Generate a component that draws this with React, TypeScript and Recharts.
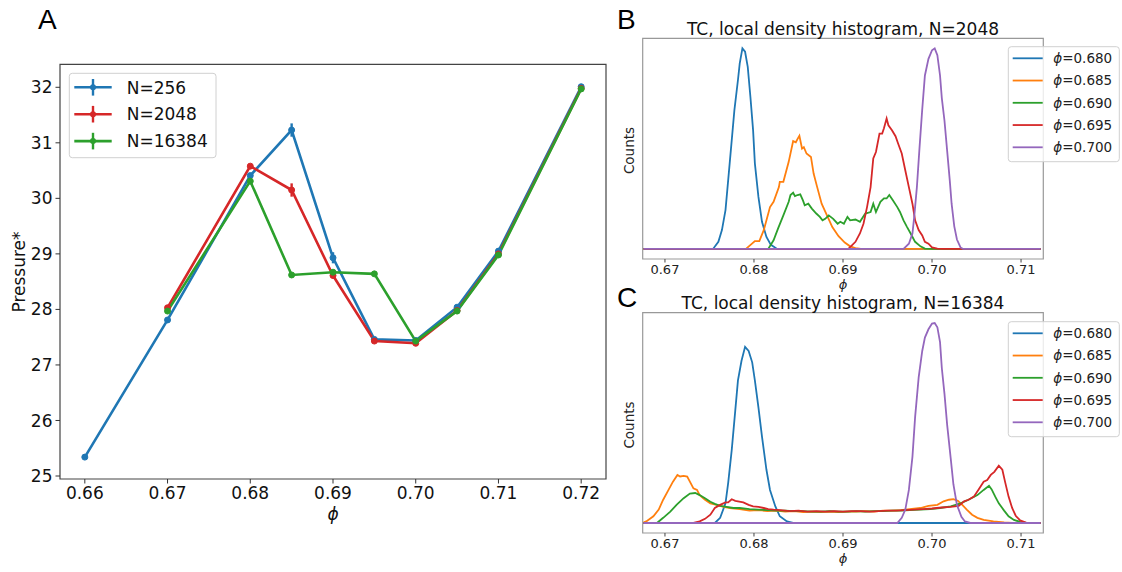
import React from 'react';
import { LineChart, Line, XAxis, YAxis, ErrorBar, ReferenceArea } from 'recharts';

const FONT = '"DejaVu Sans", Verdana, sans-serif';
const BLUE = '#1f77b4';
const ORANGE = '#ff7f0e';
const GREEN = '#2ca02c';
const RED = '#d62728';
const PURPLE = '#9467bd';

// ---------- Panel A : pressure vs phi ----------
const phiA256 = [0.66, 0.67, 0.68, 0.685, 0.69, 0.695, 0.7, 0.705, 0.71, 0.72];
const pressA256 = [25.34, 27.81, 30.41, 31.23, 28.93, 27.46, 27.44, 28.04, 29.05, 32.01];
const errA256 = [0.03, 0.03, 0.04, 0.12, 0.1, 0.03, 0.03, 0.04, 0.05, 0.03];

const phiA2048 = [0.67, 0.68, 0.685, 0.69, 0.695, 0.7, 0.705, 0.71, 0.72];
const pressA2048 = [28.03, 30.58, 30.15, 28.61, 27.43, 27.39, 27.98, 29.0, 31.98];
const errA2048 = [0.04, 0.04, 0.12, 0.04, 0.03, 0.03, 0.03, 0.04, 0.03];

const phiA16384 = [0.67, 0.68, 0.685, 0.69, 0.695, 0.7, 0.705, 0.71, 0.72];
const pressA16384 = [27.97, 30.31, 28.62, 28.67, 28.64, 27.43, 27.97, 28.98, 31.97];
const errA16384 = [0.04, 0.05, 0.03, 0.03, 0.03, 0.03, 0.03, 0.04, 0.03];

const xTicksA = [0.66, 0.67, 0.68, 0.69, 0.7, 0.71, 0.72];
const yTicksA = [25, 26, 27, 28, 29, 30, 31, 32];
const legendA = ['N=256', 'N=2048', 'N=16384'];

// ---------- Panel B : histograms N=2048 ----------
const histB680: [number, number][] = [
  [0.6676, 0], [0.6754, 0], [0.676, 0.19], [0.6764, 0.5], [0.6768, 1.03], [0.6771, 1.82], [0.6775, 2.88],
  [0.6778, 3.68], [0.6782, 4.48], [0.6784, 4.92], [0.6787, 5.32], [0.679, 5.23], [0.6793, 4.83], [0.6796, 4.03],
  [0.6799, 3.15], [0.6801, 2.27], [0.6805, 1.38], [0.6809, 0.72], [0.6814, 0.32], [0.6819, 0.11], [0.6826, 0], [0.7122, 0],
];
const histB685: [number, number][] = [
  [0.6676, 0], [0.6791, 0], [0.6801, 0.21], [0.6806, 0.21], [0.6811, 0.5], [0.6818, 1.11], [0.6822, 1.25],
  [0.6828, 1.64], [0.6829, 1.78], [0.6833, 1.78], [0.6839, 2.31], [0.6844, 2.86], [0.6847, 2.83], [0.6849, 2.92],
  [0.6851, 3.0], [0.6854, 2.66], [0.6856, 2.7], [0.6859, 2.53], [0.6864, 2.44], [0.6867, 2.0], [0.6871, 1.64],
  [0.6876, 1.2], [0.6882, 0.89], [0.6888, 0.58], [0.6895, 0.34], [0.6902, 0.17], [0.6908, 0.07], [0.6914, 0.02],
  [0.692, 0], [0.7122, 0],
];
const histB690: [number, number][] = [
  [0.6676, 0], [0.6816, 0], [0.6822, 0.23], [0.6827, 0.54], [0.6833, 0.89], [0.6839, 1.25], [0.6841, 1.43],
  [0.6844, 1.49], [0.6846, 1.4], [0.6849, 1.43], [0.6852, 1.45], [0.6855, 1.29], [0.6857, 1.16], [0.6861, 1.2],
  [0.6865, 1.07], [0.687, 0.94], [0.6874, 0.85], [0.6877, 0.76], [0.688, 0.8], [0.6884, 0.89], [0.6889, 0.8],
  [0.6894, 0.67], [0.6897, 0.72], [0.6901, 0.67], [0.6905, 0.85], [0.6908, 0.76], [0.6914, 0.78], [0.6919, 0.72],
  [0.6925, 0.94], [0.6931, 0.98], [0.6934, 1.2], [0.6937, 0.98], [0.6942, 1.25], [0.6946, 1.34], [0.6949, 1.34],
  [0.6952, 1.43], [0.6956, 1.29], [0.6961, 1.11], [0.6964, 0.98], [0.6968, 0.76], [0.6972, 0.58], [0.6976, 0.41],
  [0.6981, 0.19], [0.6987, 0.07], [0.6992, 0.01], [0.7, 0], [0.7122, 0],
];
const histB695: [number, number][] = [
  [0.6676, 0], [0.6906, 0], [0.6914, 0.19], [0.6919, 0.41], [0.6923, 0.67], [0.6927, 1.11], [0.6931, 1.64],
  [0.6934, 2.4], [0.6937, 2.57], [0.6941, 3.06], [0.6944, 3.06], [0.6946, 3.2], [0.6949, 3.46], [0.6951, 3.28],
  [0.6955, 3.15], [0.6959, 2.99], [0.6962, 2.79], [0.6966, 2.53], [0.697, 2.08], [0.6974, 1.64], [0.6978, 1.2],
  [0.6981, 0.76], [0.6985, 0.5], [0.6989, 0.36], [0.6992, 0.19], [0.6996, 0.14], [0.7, 0.04], [0.7006, 0.01],
  [0.7012, 0], [0.7122, 0],
];
const histB700: [number, number][] = [
  [0.6676, 0], [0.6968, 0], [0.6974, 0.14], [0.6978, 0.41], [0.698, 0.85], [0.6983, 1.64], [0.6986, 2.7],
  [0.6989, 3.7], [0.6992, 4.6], [0.6996, 5.04], [0.7, 5.27], [0.7003, 5.32], [0.7006, 5.14], [0.7009, 4.6],
  [0.7011, 4.0], [0.7014, 3.4], [0.7017, 2.6], [0.702, 1.8], [0.7022, 1.2], [0.7025, 0.6], [0.7028, 0.25],
  [0.7032, 0.04], [0.7035, 0], [0.7122, 0],
];

// ---------- Panel C : histograms N=16384 ----------
const histC680: [number, number][] = [
  [0.6676, 0], [0.6756, 0], [0.6762, 0.1], [0.6768, 0.38], [0.6771, 0.77], [0.6775, 1.41], [0.6779, 2.18],
  [0.6782, 2.76], [0.6786, 3.14], [0.679, 3.41], [0.6794, 3.33], [0.6798, 3.11], [0.6801, 2.76], [0.6805, 2.24],
  [0.6809, 1.67], [0.6814, 1.03], [0.6818, 0.64], [0.6824, 0.32], [0.6829, 0.13], [0.6837, 0.03], [0.6844, 0], [0.7122, 0],
];
const histC685: [number, number][] = [
  [0.6676, 0.01], [0.6679, 0.03], [0.6687, 0.13], [0.6693, 0.26], [0.6698, 0.45], [0.6704, 0.64], [0.6709, 0.8],
  [0.6714, 0.93], [0.6717, 0.9], [0.6721, 0.91], [0.6725, 0.9], [0.6728, 0.8], [0.6732, 0.67], [0.6736, 0.64],
  [0.6739, 0.54], [0.6745, 0.45], [0.6751, 0.38], [0.6758, 0.35], [0.6766, 0.31], [0.6773, 0.29], [0.6784, 0.27],
  [0.6795, 0.24], [0.6805, 0.25], [0.6815, 0.23], [0.6825, 0.24], [0.6835, 0.22], [0.6845, 0.23], [0.6855, 0.21],
  [0.6865, 0.22], [0.6875, 0.21], [0.6885, 0.22], [0.6895, 0.21], [0.6905, 0.22], [0.6915, 0.22], [0.6925, 0.23],
  [0.6935, 0.22], [0.6945, 0.24], [0.6955, 0.24], [0.6965, 0.25], [0.6975, 0.27], [0.6987, 0.29], [0.6996, 0.33],
  [0.7006, 0.35], [0.7013, 0.42], [0.7019, 0.45], [0.7024, 0.46], [0.7029, 0.43], [0.7034, 0.35], [0.7039, 0.26],
  [0.7045, 0.16], [0.7051, 0.1], [0.7058, 0.06], [0.7069, 0.03], [0.7081, 0.01], [0.709, 0], [0.7122, 0],
];
const histC690: [number, number][] = [
  [0.6676, 0], [0.6691, 0], [0.6698, 0.1], [0.6706, 0.22], [0.6713, 0.35], [0.6721, 0.48], [0.6728, 0.57],
  [0.6734, 0.58], [0.6739, 0.54], [0.6745, 0.48], [0.6751, 0.41], [0.6756, 0.37], [0.6762, 0.33], [0.6769, 0.31],
  [0.6777, 0.29], [0.6784, 0.29], [0.6795, 0.27], [0.6805, 0.26], [0.6815, 0.25], [0.6825, 0.24], [0.6835, 0.24],
  [0.6845, 0.23], [0.6855, 0.23], [0.6865, 0.22], [0.6875, 0.22], [0.6885, 0.23], [0.6895, 0.22], [0.6905, 0.22],
  [0.6915, 0.23], [0.6925, 0.22], [0.6935, 0.23], [0.6945, 0.23], [0.6955, 0.24], [0.6965, 0.24], [0.6975, 0.25],
  [0.6987, 0.26], [0.6998, 0.27], [0.7009, 0.29], [0.7021, 0.32], [0.7032, 0.38], [0.7041, 0.45], [0.7051, 0.54],
  [0.7058, 0.64], [0.7064, 0.72], [0.7067, 0.65], [0.7071, 0.51], [0.7075, 0.38], [0.7081, 0.24], [0.7086, 0.13],
  [0.7092, 0.06], [0.7099, 0.02], [0.7106, 0], [0.7122, 0],
];
const histC695: [number, number][] = [
  [0.6676, 0], [0.6732, 0], [0.6739, 0.03], [0.6745, 0.08], [0.6751, 0.16], [0.6756, 0.29], [0.6762, 0.35],
  [0.6768, 0.4], [0.6771, 0.4], [0.6775, 0.46], [0.6779, 0.43], [0.6782, 0.42], [0.6788, 0.4], [0.6794, 0.35],
  [0.6799, 0.32], [0.6805, 0.31], [0.6811, 0.29], [0.6816, 0.27], [0.6822, 0.26], [0.683, 0.25], [0.684, 0.23],
  [0.685, 0.24], [0.686, 0.22], [0.687, 0.23], [0.688, 0.22], [0.689, 0.23], [0.69, 0.22], [0.691, 0.23],
  [0.692, 0.23], [0.693, 0.22], [0.694, 0.23], [0.695, 0.24], [0.696, 0.24], [0.697, 0.25], [0.698, 0.26],
  [0.699, 0.27], [0.7, 0.28], [0.7011, 0.3], [0.7021, 0.31], [0.703, 0.33], [0.7036, 0.42], [0.7041, 0.45],
  [0.7047, 0.51], [0.7052, 0.64], [0.7058, 0.8], [0.7062, 0.83], [0.7066, 0.93], [0.707, 0.99], [0.7075, 1.11],
  [0.7079, 1.03], [0.7082, 0.8], [0.7086, 0.51], [0.709, 0.29], [0.7094, 0.14], [0.7099, 0.05], [0.7107, 0], [0.7122, 0],
];
const histC700: [number, number][] = [
  [0.6676, 0], [0.6961, 0], [0.6966, 0.1], [0.697, 0.26], [0.6974, 0.64], [0.6978, 1.28], [0.6981, 2.05],
  [0.6985, 2.82], [0.6989, 3.33], [0.6992, 3.59], [0.6996, 3.75], [0.7, 3.86], [0.7003, 3.87], [0.7006, 3.79],
  [0.7009, 3.5], [0.7011, 3.0], [0.7014, 2.5], [0.7017, 1.9], [0.7021, 1.25], [0.7024, 0.75], [0.7028, 0.35],
  [0.7033, 0.12], [0.7037, 0.03], [0.7043, 0], [0.7122, 0],
];

const histXTicks = [0.67, 0.68, 0.69, 0.7, 0.71];
const histXDomain: [number, number] = [0.6675, 0.7125];
const histLegend = ['0.680', '0.685', '0.690', '0.695', '0.700'];
const histColors = [BLUE, ORANGE, GREEN, RED, PURPLE];

const toA = (xs: number[], ys: number[], es: number[]) => xs.map((x, i) => ({ x, y: ys[i], err: es[i] }));
const toH = (arr: [number, number][]) => arr.map(([x, y]) => ({ x, y }));

const seriesA = [
  { name: legendA[0], color: BLUE, data: toA(phiA256, pressA256, errA256) },
  { name: legendA[1], color: RED, data: toA(phiA2048, pressA2048, errA2048) },
  { name: legendA[2], color: GREEN, data: toA(phiA16384, pressA16384, errA16384) },
];

const seriesB = [histB680, histB685, histB690, histB695, histB700].map((h, i) => ({ color: histColors[i], data: toH(h) }));
const seriesC = [histC680, histC685, histC690, histC695, histC700].map((h, i) => ({ color: histColors[i], data: toH(h) }));

const domainA_X: [number, number] = [0.657, 0.723];
const domainA_Y: [number, number] = [24.946, 32.414];

function PanelA() {
  return (
    <div style={{ position: 'absolute', left: 0, top: 0 }}>
      <LineChart width={620} height={572} margin={{ top: 64.3, right: 14, left: 0, bottom: 0 }}>
        <XAxis
          type="number"
          dataKey="x"
          domain={domainA_X}
          ticks={xTicksA}
          allowDataOverflow
          interval={0}
          tickFormatter={(v: number) => v.toFixed(2)}
          height={93}
          tickSize={4.5}
          tickMargin={3}
          axisLine={false}
          tickLine={{ stroke: '#333' }}
          tick={{ fontSize: 17, fill: '#111', fontFamily: FONT }}
        />
        <YAxis
          type="number"
          domain={domainA_Y}
          ticks={yTicksA}
          allowDataOverflow
          interval={0}
          width={60}
          tickSize={4.5}
          tickMargin={3}
          axisLine={false}
          tickLine={{ stroke: '#333' }}
          tick={{ fontSize: 17, fill: '#111', fontFamily: FONT }}
        />
        <ReferenceArea
          x1={domainA_X[0]}
          x2={domainA_X[1]}
          y1={domainA_Y[0]}
          y2={domainA_Y[1]}
          fill="none"
          stroke="#444"
          strokeWidth={1.2}
          ifOverflow="visible"
        />
        {seriesA.map((s) => (
          <Line
            key={s.name}
            data={s.data}
            dataKey="y"
            type="linear"
            stroke={s.color}
            strokeWidth={2.6}
            dot={{ r: 3, fill: s.color, stroke: s.color, strokeWidth: 1 }}
            isAnimationActive={false}
          >
            <ErrorBar dataKey="err" width={0} strokeWidth={2.4} stroke={s.color} direction="y" />
          </Line>
        ))}
      </LineChart>
    </div>
  );
}

type HistProps = {
  top: number;
  marginTop: number;
  xAxisHeight: number;
  yDomain: [number, number];
  yTicks: number[];
  series: { color: string; data: { x: number; y: number }[] }[];
};

function HistPanel({ top, marginTop, xAxisHeight, yDomain, yTicks, series }: HistProps) {
  return (
    <div style={{ position: 'absolute', left: 600, top }}>
      <LineChart width={460} height={290} margin={{ top: marginTop, right: 16.7, left: 0, bottom: 0 }}>
        <XAxis
          type="number"
          dataKey="x"
          domain={histXDomain}
          ticks={histXTicks}
          allowDataOverflow
          interval={0}
          tickFormatter={(v: number) => v.toFixed(2)}
          height={xAxisHeight}
          tickSize={3.5}
          tickMargin={2.5}
          axisLine={false}
          tickLine={{ stroke: '#444' }}
          tick={{ fontSize: 13, fill: '#222', fontFamily: FONT }}
        />
        <YAxis
          type="number"
          domain={yDomain}
          ticks={yTicks}
          allowDataOverflow
          interval={0}
          width={42.7}
          tickSize={3}
          tick={false}
          axisLine={false}
          tickLine={{ stroke: '#555' }}
        />
        <ReferenceArea
          x1={histXDomain[0]}
          x2={histXDomain[1]}
          y1={yDomain[0]}
          y2={yDomain[1]}
          fill="none"
          stroke="#999"
          strokeWidth={1.2}
          ifOverflow="visible"
        />
        {series.map((s, i) => (
          <Line
            key={i}
            data={s.data}
            dataKey="y"
            type="linear"
            stroke={s.color}
            strokeWidth={1.8}
            dot={false}
            isAnimationActive={false}
          />
        ))}
      </LineChart>
    </div>
  );
}

function HistLegend({ top }: { top: number }) {
  return (
    <g>
      <rect x={1008.3} y={top} width={111} height={115} rx={3} ry={3} fill="rgba(255,255,255,0.8)" stroke="#d0d0d0" strokeWidth={1} />
      {histLegend.map((lab, i) => {
        const cy = top + 11.6 + i * 22.25;
        return (
          <g key={lab}>
            <line x1={1012.7} x2={1042.7} y1={cy} y2={cy} stroke={histColors[i]} strokeWidth={1.8} />
            <text x={1053.3} y={cy + 4.9} fontSize={13.5} fill="#222" fontFamily={FONT}>
              <tspan fontStyle="italic">ϕ</tspan>
              <tspan>={lab}</tspan>
            </text>
          </g>
        );
      })}
    </g>
  );
}

export default function App() {
  return (
    <div
      style={{
        position: 'absolute',
        left: 0,
        top: 0,
        width: 1122,
        height: 572,
        background: '#fff',
        overflow: 'hidden',
        fontFamily: FONT,
      }}
    >
      <PanelA />
      <HistPanel top={0} marginTop={38.3} xAxisHeight={31} yDomain={[-0.266, 5.586]} yTicks={[0, 1, 2, 3, 4, 5]} series={seriesB} />
      <HistPanel top={280} marginTop={32.7} xAxisHeight={37} yDomain={[-0.194, 4.071]} yTicks={[0, 1, 2, 3, 4]} series={seriesC} />
      <svg width={1122} height={572} style={{ position: 'absolute', left: 0, top: 0, pointerEvents: 'none' }}>
        {/* panel letters */}
        <text x={38} y={29} fontSize={28} fontFamily='"Liberation Sans", Arial, sans-serif' fill="#000">A</text>
        <text x={617} y={29} fontSize={28} fontFamily='"Liberation Sans", Arial, sans-serif' fill="#000">B</text>
        <text x={617} y={306.5} fontSize={28} fontFamily='"Liberation Sans", Arial, sans-serif' fill="#000">C</text>

        {/* panel A labels */}
        <text x={333} y={520} fontSize={17} fontStyle="italic" textAnchor="middle" fontFamily={FONT} fill="#111">ϕ</text>
        <text x={25} y={272} fontSize={17} textAnchor="middle" fontFamily={FONT} fill="#111" transform="rotate(-90 25 272)">Pressure*</text>

        {/* panel A legend */}
        <rect x={69.3} y={73.3} width={146.7} height={84.4} rx={3} ry={3} fill="rgba(255,255,255,0.8)" stroke="#d0d0d0" strokeWidth={1} />
        {legendA.map((lab, i) => {
          const cy = 87.3 + i * 26.9;
          const col = seriesA[i].color;
          return (
            <g key={lab}>
              <line x1={74.3} x2={111.7} y1={cy} y2={cy} stroke={col} strokeWidth={2.6} />
              <line x1={93} x2={93} y1={cy - 8.3} y2={cy + 8.3} stroke={col} strokeWidth={2.4} />
              <circle cx={93} cy={cy} r={3} fill={col} />
              <text x={126.7} y={cy + 6.2} fontSize={17} fontFamily={FONT} fill="#111">{lab}</text>
            </g>
          );
        })}

        {/* panel B labels */}
        <text x={843} y={35} fontSize={17} textAnchor="middle" fontFamily={FONT} fill="#111">TC, local density histogram, N=2048</text>
        <text x={843} y={289} fontSize={13} fontStyle="italic" textAnchor="middle" fontFamily={FONT} fill="#222">ϕ</text>
        <text x={634} y={150.5} fontSize={13.5} textAnchor="middle" fontFamily={FONT} fill="#222" transform="rotate(-90 634 150.5)">Counts</text>
        <HistLegend top={46.7} />

        {/* panel C labels */}
        <text x={843} y={309.3} fontSize={17} textAnchor="middle" fontFamily={FONT} fill="#111">TC, local density histogram, N=16384</text>
        <text x={843} y={563} fontSize={13} fontStyle="italic" textAnchor="middle" fontFamily={FONT} fill="#222">ϕ</text>
        <text x={634} y={425} fontSize={13.5} textAnchor="middle" fontFamily={FONT} fill="#222" transform="rotate(-90 634 425)">Counts</text>
        <HistLegend top={321.7} />
      </svg>
    </div>
  );
}
